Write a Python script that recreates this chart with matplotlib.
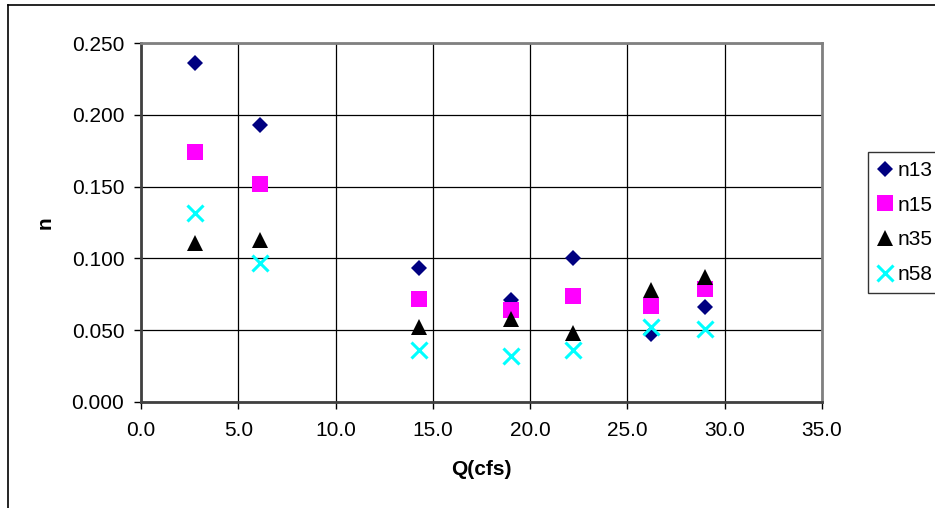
import matplotlib
matplotlib.use('Agg')
import matplotlib.pyplot as plt
from matplotlib.lines import Line2D

# 流量 Q(cfs) 与各段糙率 n
q = [2.8, 6.1, 14.3, 19.0, 22.2, 26.2, 29.0]
n13 = [0.236, 0.193, 0.093, 0.071, 0.100, 0.047, 0.066]
n15 = [0.174, 0.152, 0.072, 0.064, 0.074, 0.067, 0.079]
n35 = [0.111, 0.113, 0.052, 0.058, 0.048, 0.078, 0.087]
n58 = [0.132, 0.097, 0.036, 0.032, 0.036, 0.052, 0.051]

plt.rcParams['font.family'] = ['Liberation Sans', 'DejaVu Sans']

fig = plt.figure(figsize=(9.35, 5.08), dpi=100)
ax = fig.add_axes([0.1508, 0.209, 0.7282, 0.7058])

ax.plot(q, n13, ls='none', marker='D', ms=8.2, color='#000080', mew=0, label='n13')
ax.plot(q, n15, ls='none', marker='s', ms=11.5, color='#FF00FF', mew=0, label='n15')
ax.plot(q, n35, ls='none', marker='^', ms=12, color='black', mew=0, label='n35')
ax.plot(q, n58, ls='none', marker='x', ms=11, color='#00FFFF', mew=2.2, label='n58')

ax.set_xlim(0, 35)
ax.set_ylim(0, 0.25)
ax.set_xticks([0, 5, 10, 15, 20, 25, 30, 35])
ax.set_xticklabels(['%.1f' % v for v in [0, 5, 10, 15, 20, 25, 30, 35]])
ax.set_yticks([0, 0.05, 0.1, 0.15, 0.2, 0.25])
ax.set_yticklabels(['%.3f' % v for v in [0, 0.05, 0.1, 0.15, 0.2, 0.25]])
ax.tick_params(axis='both', labelsize=15, length=5, width=1, color='black')
ax.tick_params(axis='x', pad=9)
ax.tick_params(axis='y', pad=7)
ax.grid(True, color='black', lw=0.9)
ax.set_axisbelow(True)

for side in ['top', 'right']:
    ax.spines[side].set_color('#808080')
    ax.spines[side].set_linewidth(2)
for side in ['left', 'bottom']:
    ax.spines[side].set_color('#404040')
    ax.spines[side].set_linewidth(2)

ax.set_xlabel('Q(cfs)', fontsize=15, fontweight='bold', labelpad=14)
ax.set_ylabel('n', fontsize=15, fontweight='bold', labelpad=12)

leg = ax.legend(loc='center left', bbox_to_anchor=(1.068, 0.5), fontsize=15,
                frameon=True, fancybox=False, edgecolor='black',
                handlelength=0.7, handletextpad=0.25, borderpad=0.45,
                labelspacing=0.75, borderaxespad=0)
leg.get_frame().set_linewidth(1)

# 外框
fig.add_artist(Line2D([0.0086, 0.0086], [0, 0.9907], transform=fig.transFigure, color='black', lw=1.2))
fig.add_artist(Line2D([0.0086, 1.0], [0.9907, 0.9907], transform=fig.transFigure, color='black', lw=1.2))

fig.savefig('out.png', dpi=100)
